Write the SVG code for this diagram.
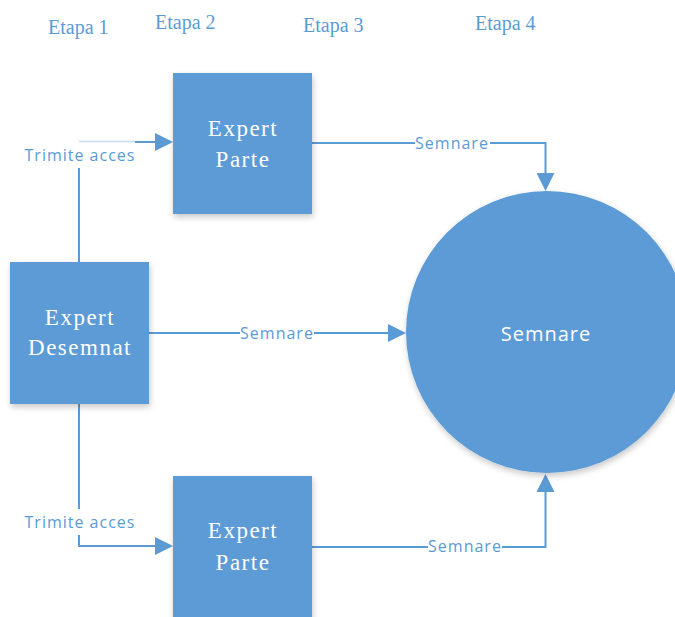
<svg xmlns="http://www.w3.org/2000/svg" width="675" height="617" viewBox="0 0 675 617">
  <style>
    .stage { font-family: "Liberation Serif", "Times New Roman", serif; font-size: 20px; fill: #5B9BD5; }
    .node { fill: #5B9BD5; filter: url(#shade); }
    .ntext { font-family: "Liberation Serif", "Times New Roman", serif; font-size: 23px; fill: #FFFFFF; text-anchor: middle; letter-spacing: 1.5px; }
    .ctext { font-family: "Open Sans", "Noto Sans", sans-serif; font-size: 20px; fill: #FFFFFF; text-anchor: middle; letter-spacing: 1px; }
    .link { fill: none; stroke: #5B9BD5; stroke-width: 2; }
    .faint { fill: none; stroke: #5B9BD5; stroke-width: 1.5; stroke-opacity: 0.35; }
    .lbl { font-family: "Open Sans", "Noto Sans", sans-serif; font-size: 16px; fill: #5B9BD5; text-anchor: middle; letter-spacing: 1px; }
    .lblbg { fill: #FFFFFF; }
  </style>
  <defs>
    <filter id="shade" x="-20%" y="-20%" width="140%" height="140%">
      <feDropShadow dx="1" dy="3" stdDeviation="3" flood-color="#000000" flood-opacity="0.22"/>
    </filter>
    <marker id="arrow" markerUnits="userSpaceOnUse" markerWidth="18" markerHeight="18" refX="0" refY="9" orient="auto">
      <path d="M0,0 L18,9 L0,18 Z" fill="#5B9BD5"/>
    </marker>
  </defs>

  <rect width="675" height="617" fill="#FFFFFF"/>

  <!-- stage headings -->
  <g id="stages">
    <text class="stage" x="48" y="34">Etapa 1</text>
    <text class="stage" x="155" y="29">Etapa 2</text>
    <text class="stage" x="303" y="32">Etapa 3</text>
    <text class="stage" x="475" y="30">Etapa 4</text>
  </g>

  <!-- connectors -->
  <g id="connectors">
    <!-- Expert Desemnat -> upper Expert Parte -->
    <path class="link" d="M79,262 V168"/>
    <path class="faint" d="M79,141.5 H135"/>
    <path class="link" d="M135,142 H155" marker-end="url(#arrow)"/>
    <text class="lbl" x="80" y="161">Trimite acces</text>

    <!-- Expert Desemnat -> lower Expert Parte -->
    <path class="link" d="M79,404 V509"/>
    <path class="link" d="M79,535 V546 H155" marker-end="url(#arrow)"/>
    <text class="lbl" x="80" y="528">Trimite acces</text>

    <!-- Expert Desemnat -> Semnare -->
    <path class="link" d="M149,333 H388" marker-end="url(#arrow)"/>
    <rect class="lblbg" x="240" y="325" width="74" height="17"/>
    <text class="lbl" x="277" y="339">Semnare</text>

    <!-- upper Expert Parte -> Semnare -->
    <path class="link" d="M312,143 H545.5 V173" marker-end="url(#arrow)"/>
    <rect class="lblbg" x="415" y="135" width="75" height="17"/>
    <text class="lbl" x="452" y="149">Semnare</text>

    <!-- lower Expert Parte -> Semnare -->
    <path class="link" d="M312,547 H545.5 V492" marker-end="url(#arrow)"/>
    <rect class="lblbg" x="428" y="539" width="74" height="17"/>
    <text class="lbl" x="465" y="552">Semnare</text>
  </g>

  <!-- nodes -->
  <g id="expert-parte-top">
    <rect class="node" x="173" y="73" width="139" height="141"/>
    <text class="ntext" x="243" y="136">Expert</text>
    <text class="ntext" x="243" y="167">Parte</text>
  </g>

  <g id="expert-desemnat">
    <rect class="node" x="10" y="262" width="139" height="142"/>
    <text class="ntext" x="80" y="325">Expert</text>
    <text class="ntext" x="80" y="355">Desemnat</text>
  </g>

  <g id="expert-parte-bottom">
    <rect class="node" x="173" y="476" width="139" height="145"/>
    <text class="ntext" x="243" y="538">Expert</text>
    <text class="ntext" x="243" y="570">Parte</text>
  </g>

  <g id="semnare">
    <circle class="node" cx="547" cy="332" r="141"/>
    <text class="ctext" x="546" y="341">Semnare</text>
  </g>
</svg>
